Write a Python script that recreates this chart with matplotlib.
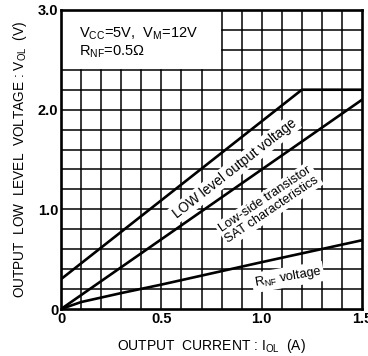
import matplotlib.pyplot as plt
import numpy as np

plt.rcParams['font.family'] = ['Liberation Sans', 'DejaVu Sans']
plt.rcParams['mathtext.fontset'] = 'custom'
plt.rcParams['mathtext.rm'] = 'Liberation Sans'

# LOW level output voltage
i_low = [0.0, 1.2, 1.5]
v_low = [0.3, 2.2, 2.2]
# low-side transistor SAT characteristics
i_sat = [0.0, 0.5, 1.0, 1.5]
v_sat = [0.0, 0.70, 1.40, 2.10]
# RNF voltage
i_rnf = [0.0, 0.1, 0.3, 0.5, 1.0, 1.5]
v_rnf = [0.0, 0.07, 0.16, 0.245, 0.47, 0.69]

xticks = [0, 0.5, 1.0, 1.5]
xlabels = ['0', '0.5', '1.0', '1.5']
yticks = [0, 1.0, 2.0, 3.0]
ylabels = ['0', '1.0', '2.0', '3.0']

fig = plt.figure(figsize=(3.68, 3.56), dpi=100)
ax = fig.add_axes([0.166, 0.132, 0.818, 0.840])
ax.set_xlim(0, 1.5)
ax.set_ylim(0, 3.0)

# grid, left out behind the condition box (0..0.8, 2.4..3.0)
for gx in np.arange(0.1, 1.45, 0.1):
    top = 2.4 if gx < 0.8 else 3.0
    ax.plot([gx, gx], [0, top], color='black', lw=1.1, zorder=1)
for gy in np.arange(0.2, 2.95, 0.2):
    start = 0.8 if gy > 2.41 else 0.0
    ax.plot([start, 1.5], [gy, gy], color='black', lw=1.1, zorder=1)

ax.plot(i_low, v_low, color='black', lw=1.9, zorder=3)
ax.plot(i_sat, v_sat, color='black', lw=1.9, zorder=3)
ax.plot(i_rnf, v_rnf, color='black', lw=1.9, zorder=3)

ax.text(0.09, 2.76, r'V$_{\mathregular{CC}}$=5V,  V$_{\mathregular{M}}$=12V',
        fontsize=10.5, va='center')
ax.text(0.09, 2.585, r'R$_{\mathregular{NF}}$=0.5$\mathregular{\Omega}$',
        fontsize=10.5, va='center')

box = dict(facecolor='white', edgecolor='none', pad=1.5)
ax.text(0.865, 1.41, 'LOW level output voltage', rotation=38, fontsize=9.8,
        ha='center', va='center', rotation_mode='anchor', zorder=2, bbox=box)
ax.text(1.035, 1.05, 'Low-side transistor\nSAT characteristics', rotation=34,
        fontsize=9.3, ha='center', va='center', rotation_mode='anchor',
        linespacing=1.0, zorder=2, bbox=box)
ax.text(1.13, 0.32, r'R$_{\mathregular{NF}}$ voltage', rotation=10, fontsize=9.3,
        ha='center', va='center', rotation_mode='anchor', zorder=2, bbox=box)

ax.set_xticks(xticks)
ax.set_xticklabels(xlabels, fontsize=10.5, fontweight='bold')
ax.set_yticks(yticks)
ax.set_yticklabels(ylabels, fontsize=10.5, fontweight='bold')
ax.tick_params(length=0, pad=2)
for s in ax.spines.values():
    s.set_linewidth(1.9)

ax.set_xlabel(r'OUTPUT  CURRENT : I$_{\mathregular{OL}}$  (A)', fontsize=10, labelpad=8)
ax.set_ylabel(r'OUTPUT  LOW  LEVEL  VOLTAGE : V$_{\mathregular{OL}}$  (V)', fontsize=9.8, labelpad=6)

fig.savefig('out.png', dpi=100)
